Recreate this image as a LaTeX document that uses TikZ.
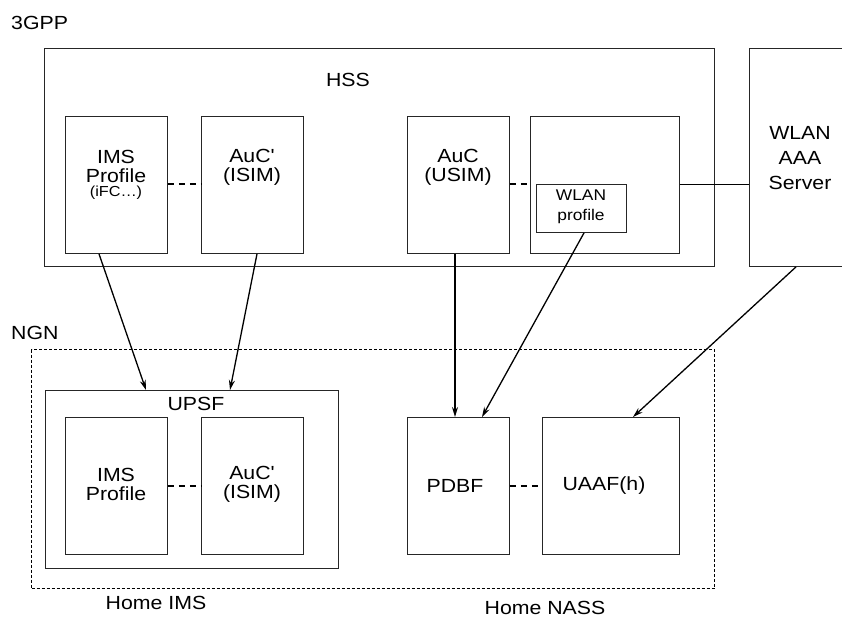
\documentclass[tikz,border=0pt]{standalone}
\usepackage{fontspec}
\setmainfont{Liberation Sans}[FakeStretch=1.12,Ligatures=TeXOff]
\usetikzlibrary{arrows.meta}
\begin{document}
\begin{tikzpicture}[x=1pt,y=-1pt,
  box/.style={draw=black!85,line width=0.9pt,inner sep=0pt,anchor=north west},
  txt/.style={font=\fontsize{19}{19}\selectfont,align=center,inner sep=0pt},
  smalltxt/.style={font=\fontsize{15.5}{19.5}\selectfont,align=center,inner sep=0pt},
  dashconn/.style={line width=1.5pt,dash pattern=on 6.5pt off 4.5pt},
  arr/.style={line width=1.3pt,-{Stealth[length=10pt,width=6pt]}},
  ngnbox/.style={draw,line width=1.2pt,dash pattern=on 3pt off 2pt,inner sep=0pt,anchor=north west}
]
\clip (0,0) rectangle (842,617);
\fill[white] (0,0) rectangle (842,617);

% labels
\node[txt,anchor=west] (l3gpp) at (11,23) {3GPP};
\node[txt,anchor=west] (lngn) at (11,333) {NGN};

% HSS
\node[box,minimum width=670pt,minimum height=218pt] (hss) at (44,48) {};
\node[txt] (hsslbl) at (348,80) {HSS};
\node[box,minimum width=102pt,minimum height=137pt] (ims1) at (65,116) {};
\node[txt] (ims1t) at (116,166) {IMS\\Profile};
\node[inner sep=0pt,font=\fontsize{14.5}{16}\selectfont] (ifc) at (116,193) {(iFC\dots)};
\node[box,minimum width=102pt,minimum height=137pt] (auc1) at (201,116) {};
\node[txt] (auc1t) at (252,167) {AuC'\\(ISIM)};
\node[box,minimum width=102pt,minimum height=137pt] (aucu) at (407,116) {};
\node[txt] (aucut) at (458,167) {AuC\\(USIM)};
\node[box,minimum width=149pt,minimum height=137pt] (wlanb) at (530,116) {};
\node[box,minimum width=90pt,minimum height=48pt] (wprof) at (536,184) {};
\node[smalltxt] (wproft) at (581,207) {WLAN\\profile};

% WLAN AAA
\node[box,minimum width=110pt,minimum height=218pt] (aaa) at (749,48) {};
\node[txt,font=\fontsize{19}{25}\selectfont] (aaat) at (800,158) {WLAN\\AAA\\Server};

% NGN
\node[ngnbox,minimum width=683pt,minimum height=239pt] (ngn) at (31,349) {};
\node[box,minimum width=293pt,minimum height=178pt] (upsf) at (45,390) {};
\node[txt] (upsft) at (196,404) {UPSF};
\node[box,minimum width=102pt,minimum height=137pt] (ims2) at (65,417) {};
\node[txt] (ims2t) at (116,484) {IMS\\Profile};
\node[box,minimum width=102pt,minimum height=137pt] (auc2) at (201,417) {};
\node[txt] (auc2t) at (252,484) {AuC'\\(ISIM)};
\node[box,minimum width=102pt,minimum height=137pt] (pdbf) at (407,417) {};
\node[txt] (pdbft) at (455,486) {PDBF};
\node[box,minimum width=137pt,minimum height=137pt] (uaaf) at (542,417) {};
\node[txt] (uaaft) at (604,486) {UAAF(h)};

\node[txt] (homeims) at (156,603) {Home IMS};
\node[txt] (homenass) at (545,608) {Home NASS};

% dashed links
\draw[dashconn] (ims1.east |- 0,184) -- (auc1.west |- 0,184);
\draw[dashconn] (aucu.east |- 0,184) -- (wlanb.west |- 0,184);
\draw[line width=0.9pt] (wlanb.east |- 0,184) -- (aaa.west |- 0,184);
\draw[dashconn] (ims2.east |- 0,486) -- (auc2.west |- 0,486);
\draw[dashconn] (pdbf.east |- 0,486) -- (uaaf.west |- 0,486);

% arrows
\coordinate (s1) at (ims1.south -| 99,0);
\coordinate (e1) at (upsf.north -| 146,0);
\coordinate (s2) at (auc1.south -| 257,0);
\coordinate (e2) at (upsf.north -| 230,0);
\coordinate (s3) at (aucu.south -| 455,0);
\coordinate (e3) at (pdbf.north -| 455,0);
\coordinate (s4) at (wprof.south -| 584,0);
\coordinate (e4) at (pdbf.north -| 482,0);
\coordinate (s5) at (aaa.south -| 796,0);
\coordinate (e5) at (uaaf.north -| 633,0);
\draw[arr] (s1) -- (e1);
\draw[arr] (s2) -- (e2);
\draw[arr] (s3) -- (e3);
\draw[arr] (s4) -- (e4);
\draw[arr] (s5) -- (e5);
\end{tikzpicture}
\end{document}
